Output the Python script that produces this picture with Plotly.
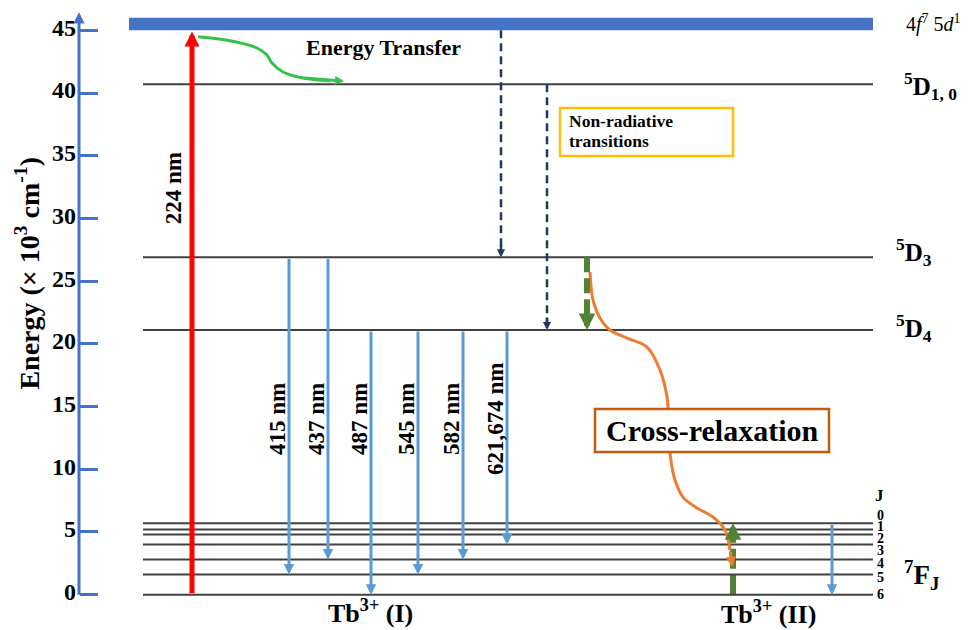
import plotly.graph_objects as go

# ---------------- data (energies in 10^3 cm^-1) ----------------
level_names = ["7F6", "7F5", "7F4", "7F3", "7F2", "7F1", "7F0", "5D4", "5D3", "5D1,0"]
level_energy = [0.0, 1.6, 2.8, 4.0, 4.8, 5.2, 5.7, 21.1, 26.9, 40.7]
band_energy = [45.0, 46.0]           # 4f7 5d1 band
excitation_label = "224 nm"
emission_labels = ["415 nm", "437 nm", "487 nm", "545 nm", "582 nm", "621,674 nm"]
emission_upper = ["5D3", "5D3", "5D4", "5D4", "5D4", "5D4"]
emission_lower = ["7F5", "7F4", "7F6", "7F5", "7F4", "7F3"]
nonrad_from = ["band", "5D1,0"]
nonrad_to = ["5D3", "5D4"]
j_labels = ["0", "1", "2", "3", "4", "5", "6"]
j_label_energy = [6.35, 5.4, 4.5, 3.55, 2.5, 1.4, 0.05]
y_ticks = [0, 5, 10, 15, 20, 25, 30, 35, 40, 45]

# ---------------- layout positions (x in page pixels) ----------------
PAGE_OFF = 8                      # default body margin of the html page
W, H = 978 - PAGE_OFF, 630 - PAGE_OFF
X_RANGE = [PAGE_OFF, 978]
Y_RANGE = [-2.82, 46.78]
AXIS_X = 79
LEVEL_X = [143, 873]
BAND_X = [129, 873]
EXC_X = 192
EMIT_X = [289, 328, 371, 418, 463, 507]
NONRAD_X = [501, 547]
CR_DOWN_X = 587
CR_UP_X = 733
CR_EMIT_X = 832
# curve paths (x pixel, energy)
et_curve_x = [198, 230, 257, 267, 272, 283, 303, 330]
et_curve_e = [44.49, 44.17, 43.59, 43.03, 42.39, 41.68, 41.2, 40.96]
cr_curve_x = [590, 593, 600, 610, 627, 647, 660, 667, 669, 670, 675, 683, 697, 713, 725, 730]
cr_curve_e = [25.73, 23.49, 22.06, 21.10, 20.46, 19.74, 17.91, 15.76, 13.13, 11.29,
              9.14, 7.78, 6.91, 6.19, 5.15, 3.56]

FONT = "Liberation Serif, Times New Roman, serif"
PX = H / (Y_RANGE[1] - Y_RANGE[0])   # pixels per energy unit
E = dict(zip(level_names, level_energy))
E["band"] = band_energy[0]

BLUE_AX = "#4472C4"
LEVEL_C = "#404040"
EMIT_C = "#5B9BD5"
NAVY = "#1F3864"
DKGREEN = "#548235"
ORANGE = "#ED7D31"
ETGREEN = "#33C24A"

fig = go.Figure()

# level lines
xs, ys = [], []
for n in level_names:
    xs += [LEVEL_X[0], LEVEL_X[1], None]
    ys += [E[n], E[n], None]
fig.add_trace(go.Scatter(x=xs, y=ys, mode="lines", line=dict(color=LEVEL_C, width=2),
                         hoverinfo="skip", showlegend=False))

# energy transfer curve
fig.add_trace(go.Scatter(x=et_curve_x, y=et_curve_e, mode="lines", line_shape="spline",
                         line=dict(color=ETGREEN, width=3), hoverinfo="skip", showlegend=False))
# cross relaxation curve
fig.add_trace(go.Scatter(x=cr_curve_x, y=cr_curve_e, mode="lines", line_shape="spline",
                         line=dict(color=ORANGE, width=3), hoverinfo="skip", showlegend=False))

shapes = []
annotations = []

# band
shapes.append(dict(type="rect", xref="x", yref="y", x0=BAND_X[0], x1=BAND_X[1],
                   y0=band_energy[0], y1=band_energy[1], fillcolor=BLUE_AX, line=dict(width=0),
                   layer="below"))


def arrow(x0, y0, x1, y1, color, width, size, head=2):
    annotations.append(dict(x=x1, y=y1, ax=x0, ay=y0, xref="x", yref="y", axref="x", ayref="y",
                            showarrow=True, arrowhead=head, arrowsize=size, arrowwidth=width,
                            arrowcolor=color, text="", standoff=0))


def dashed_arrow(x, y0, y1, color, width, dash, size, tail_px, layer="above"):
    head_len = 5 * width * size
    sign = 1 if y1 < y0 else -1
    shapes.append(dict(type="line", xref="x", yref="y", x0=x, x1=x, y0=y0,
                       y1=y1 + sign * (head_len * 0.8) / PX,
                       line=dict(color=color, width=width, dash=dash), layer=layer))
    annotations.append(dict(x=x, y=y1, ax=0, ay=-sign * tail_px, xref="x", yref="y",
                            showarrow=True, arrowhead=2, arrowsize=size, arrowwidth=width,
                            arrowcolor=color, text="", standoff=0))


# y axis line with arrow
arrow(AXIS_X, -0.12, AXIS_X, 46.45, BLUE_AX, 3, 0.75)

# excitation
arrow(EXC_X, 0, EXC_X, 44.9, "#FF0000", 5, 0.6)
annotations.append(dict(x=173, y=32.4, text="<b>" + excitation_label + "</b>", textangle=-90,
                        showarrow=False, font=dict(family=FONT, size=23, color="black")))

# energy transfer arrowhead
arrow(et_curve_x[-2], et_curve_e[-2], 344, 40.95, ETGREEN, 3, 0.6)
annotations.append(dict(x=383, y=43.67, text="<b>Energy Transfer</b>", showarrow=False,
                        font=dict(family=FONT, size=22, color="black")))

# emissions (Tb I)
for i, lab in enumerate(emission_labels):
    x = EMIT_X[i]
    arrow(x, E[emission_upper[i]], x, E[emission_lower[i]], EMIT_C, 3, 0.7)
    annotations.append(dict(x=x - 12, y=14.0, text="<b>" + lab + "</b>", textangle=-90,
                            showarrow=False, font=dict(family=FONT, size=23, color="black")))

# non-radiative dashed arrows
for i in range(len(nonrad_from)):
    dashed_arrow(NONRAD_X[i], E[nonrad_from[i]], E[nonrad_to[i]], NAVY, 2.5, "8px,5px", 0.65, 14)
shapes.append(dict(type="rect", xref="x", yref="y", x0=560, x1=733, y0=34.97, y1=38.8,
                   line=dict(color="#FFC000", width=2.5), fillcolor="white", layer="above"))
annotations.append(dict(x=567, y=37.75, xanchor="left", text="<b>Non-radiative</b>", showarrow=False,
                        font=dict(family=FONT, size=17.5, color="black")))
annotations.append(dict(x=567, y=36.2, xanchor="left", text="<b>transitions</b>", showarrow=False,
                        font=dict(family=FONT, size=17.5, color="black")))

# cross relaxation
dashed_arrow(CR_DOWN_X, E["5D3"], E["5D4"], DKGREEN, 6, "15px,6px", 0.55, 20)
dashed_arrow(CR_UP_X, E["7F6"], E["7F0"], DKGREEN, 6, "20px,6px", 0.55, 20, layer="below")
arrow(cr_curve_x[-1], cr_curve_e[-1], 732.5, 2.2, ORANGE, 3, 0.7)
arrow(CR_EMIT_X, E["7F0"], CR_EMIT_X, E["7F6"], EMIT_C, 3, 0.7)
shapes.append(dict(type="rect", xref="x", yref="y", x0=595, x1=829, y0=11.37, y1=14.8,
                   line=dict(color="#C55A11", width=2.5), fillcolor="white", layer="above"))
annotations.append(dict(x=712, y=13.05, text="<b>Cross-relaxation</b>", showarrow=False,
                        font=dict(family=FONT, size=30, color="black")))

# bottom labels
annotations.append(dict(x=370, y=-1.35, text="<b>Tb<sup>3+</sup> (I)</b>", showarrow=False,
                        font=dict(family=FONT, size=26, color="black")))
annotations.append(dict(x=768, y=-1.4, text="<b>Tb<sup>3+</sup> (II)</b>", showarrow=False,
                        font=dict(family=FONT, size=26, color="black")))

# right-hand level labels
annotations.append(dict(x=933, y=45.55, text="4<i>f</i><sup>7</sup> 5<i>d</i><sup>1</sup>",
                        showarrow=False, font=dict(family=FONT, size=20, color="black")))
annotations.append(dict(x=930, y=40.6, text="<b><sup>5</sup>D<sub>1, 0</sub></b>", showarrow=False,
                        font=dict(family=FONT, size=25, color="black")))
annotations.append(dict(x=914, y=27.3, text="<b><sup>5</sup>D<sub>3</sub></b>", showarrow=False,
                        font=dict(family=FONT, size=25, color="black")))
annotations.append(dict(x=914, y=21.3, text="<b><sup>5</sup>D<sub>4</sub></b>", showarrow=False,
                        font=dict(family=FONT, size=25, color="black")))
annotations.append(dict(x=921, y=1.6, text="<b><sup>7</sup>F<sub>J</sub></b>", showarrow=False,
                        font=dict(family=FONT, size=27, color="black")))
annotations.append(dict(x=879, y=7.9, text="<b>J</b>", showarrow=False,
                        font=dict(family=FONT, size=17, color="black")))
for lab, ej in zip(j_labels, j_label_energy):
    annotations.append(dict(x=880, y=ej, text="<b>" + lab + "</b>", showarrow=False,
                            font=dict(family=FONT, size=14, color="black")))

# y-axis title
annotations.append(dict(x=28, y=25.6, text="<b>Energy (× 10<sup>3</sup> cm<sup>-1</sup>)</b>",
                        textangle=-90, showarrow=False,
                        font=dict(family=FONT, size=28, color="black")))

fig.update_layout(
    width=W, height=H, margin=dict(l=0, r=0, t=0, b=0),
    paper_bgcolor="white", plot_bgcolor="white",
    showlegend=False,
    xaxis=dict(range=X_RANGE, visible=False, fixedrange=True),
    yaxis=dict(range=Y_RANGE, anchor="free", position=(AXIS_X - PAGE_OFF) / W, side="left",
               tickvals=y_ticks, ticktext=[str(t) for t in y_ticks],
               ticks="inside", ticklen=18, tickwidth=3, tickcolor=BLUE_AX,
               ticklabelstandoff=3, ticklabelshift=-3,
               showline=False, showgrid=False, zeroline=False, automargin=False,
               tickfont=dict(family=FONT, size=24, color="black", weight="bold"),
               fixedrange=True),
    shapes=shapes, annotations=annotations,
)

fig.write_html("out.html")
